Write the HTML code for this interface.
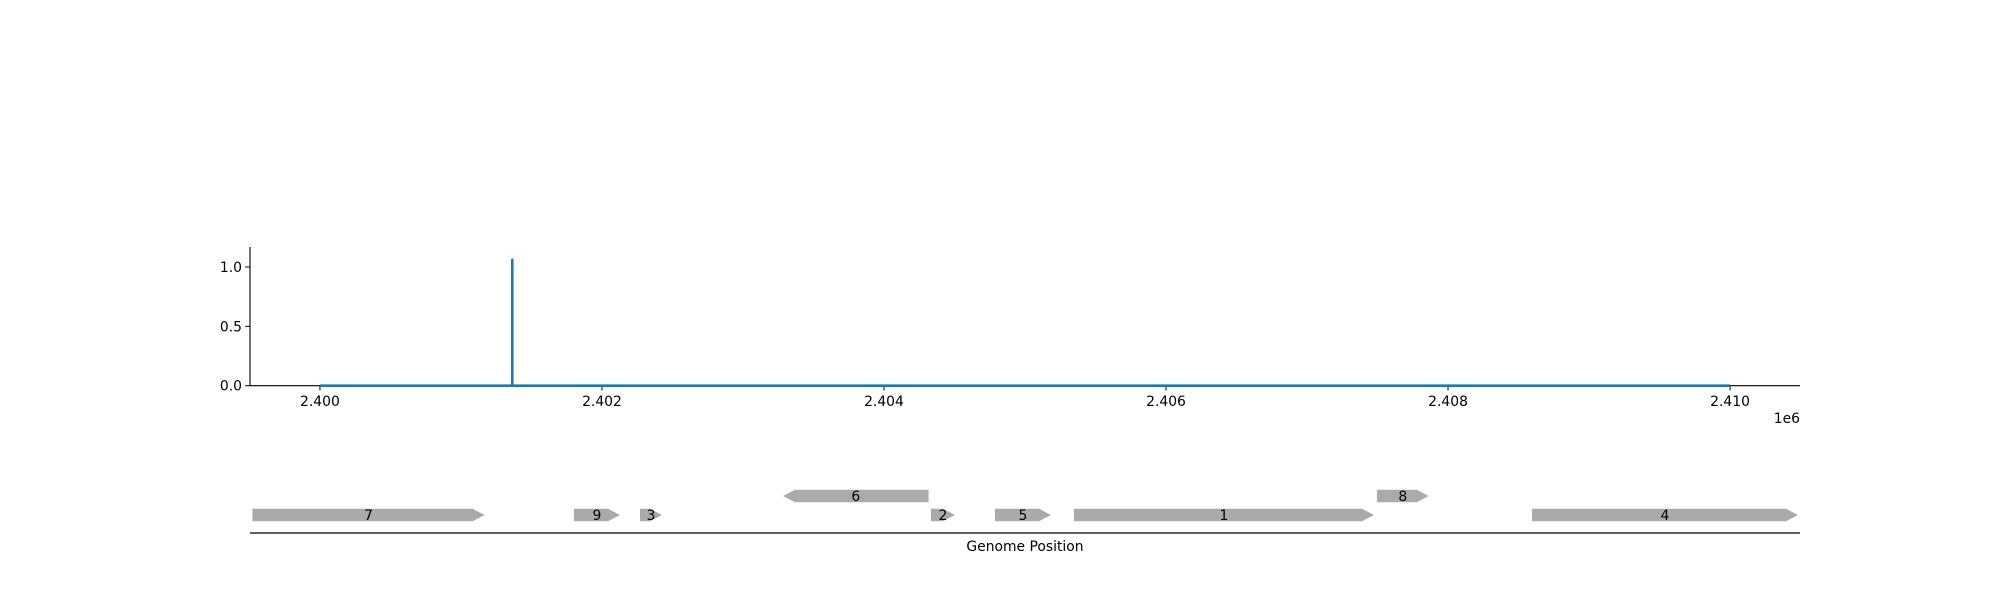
<!DOCTYPE html>
<html><head><meta charset="utf-8"><style>
body{margin:0;background:#fff}
svg text{font-family:"DejaVu Sans","Liberation Sans",sans-serif;font-size:13.9px;fill:#000}
</style></head><body>
<svg id="c" width="2000" height="600" xmlns="http://www.w3.org/2000/svg"></svg>
<script>
const xTicks=[2400000,2402000,2404000,2406000,2408000,2410000];
const xTickLabels=["2.400","2.402","2.404","2.406","2.408","2.410"];
const yTicks=[0,0.5,1.0];
const yTickLabels=["0.0","0.5","1.0"];
const signalPos=[2400000,2401364,2401364,2401364,2410000];
const signalVal=[0,0,1.06,0,0];
const geneNames=["7","9","3","6","2","5","1","8","4"];
const geneStart=[2399521,2401801,2402270,2403284,2404333,2404787,2405347,2407496,2408595];
const geneEnd=[2401168,2402128,2402426,2404316,2404503,2405184,2407475,2407862,2410482];
const geneStrand=[1,1,1,-1,1,1,1,1,1];
const geneRow=[0,0,0,1,0,0,0,1,0];

const NS="http://www.w3.org/2000/svg";
const svg=document.getElementById('c');
const X0=250,X1=1800,G0=2399504,G1=2410496;
const sx=g=>X0+(g-G0)/(G1-G0)*(X1-X0);
const sy=v=>385.7-v*(385.7-267)/1.0;
function mk(t,a,p){const e=document.createElementNS(NS,t);for(const k in a)e.setAttribute(k,a[k]);(p||svg).appendChild(e);return e;}

// axes
let e=mk('line',{x1:X0,y1:247,x2:X0,y2:385.7,stroke:'#000','stroke-width':1.1});


e=mk('line',{x1:X0,y1:385.7,x2:X1,y2:385.7,stroke:'#000','stroke-width':1.1});


xTicks.forEach((t,i)=>{
  const x=sx(t);
  let l=mk('line',{x1:x,y1:385.7,x2:x,y2:390.5,stroke:'#000'});
  
  
  let tx=mk('text',{x:x,y:406,'text-anchor':'middle'});tx.textContent=xTickLabels[i];
  
  
});
yTicks.forEach((t,i)=>{
  const y=sy(t);
  let l=mk('line',{x1:X0-4.8,y1:y,x2:X0,y2:y,stroke:'#000'});
  
  
  let tx=mk('text',{x:X0-8,y:y+5,'text-anchor':'end'});tx.textContent=yTickLabels[i];
  
  
});
e=mk('text',{x:1800,y:423,'text-anchor':'end'});e.textContent='1e6';



// signal line
const pts=signalPos.map((p,i)=>sx(p)+','+sy(signalVal[i])).join(' ');
e=mk('polyline',{points:pts,fill:'none',stroke:'#1f77b4','stroke-width':2.6,'stroke-linejoin':'round'});



// gene track
e=mk('line',{x1:X0,y1:533,x2:X1,y2:533,stroke:'#000','stroke-width':1.3});


e=mk('text',{x:1025,y:551,'text-anchor':'middle'});e.textContent='Genome Position';


geneNames.forEach((n,i)=>{
  const a=sx(geneStart[i]),b=sx(geneEnd[i]);
  const cy=geneRow[i]?496:515,h=6.2;
  const hd=Math.min(12,(b-a)*0.6);
  let d;
  if(geneStrand[i]>0) d=`M${a},${cy-h} L${b-hd},${cy-h} L${b},${cy} L${b-hd},${cy+h} L${a},${cy+h}Z`;
  else d=`M${b},${cy-h} L${a+hd},${cy-h} L${a},${cy} L${a+hd},${cy+h} L${b},${cy+h}Z`;
  const p=mk('path',{d:d,fill:'#aaaaaa'});
  
  
  const t=mk('text',{x:(a+b)/2,y:cy+5,'text-anchor':'middle'});t.textContent=n;
  
  
});
</script>
</body></html>
